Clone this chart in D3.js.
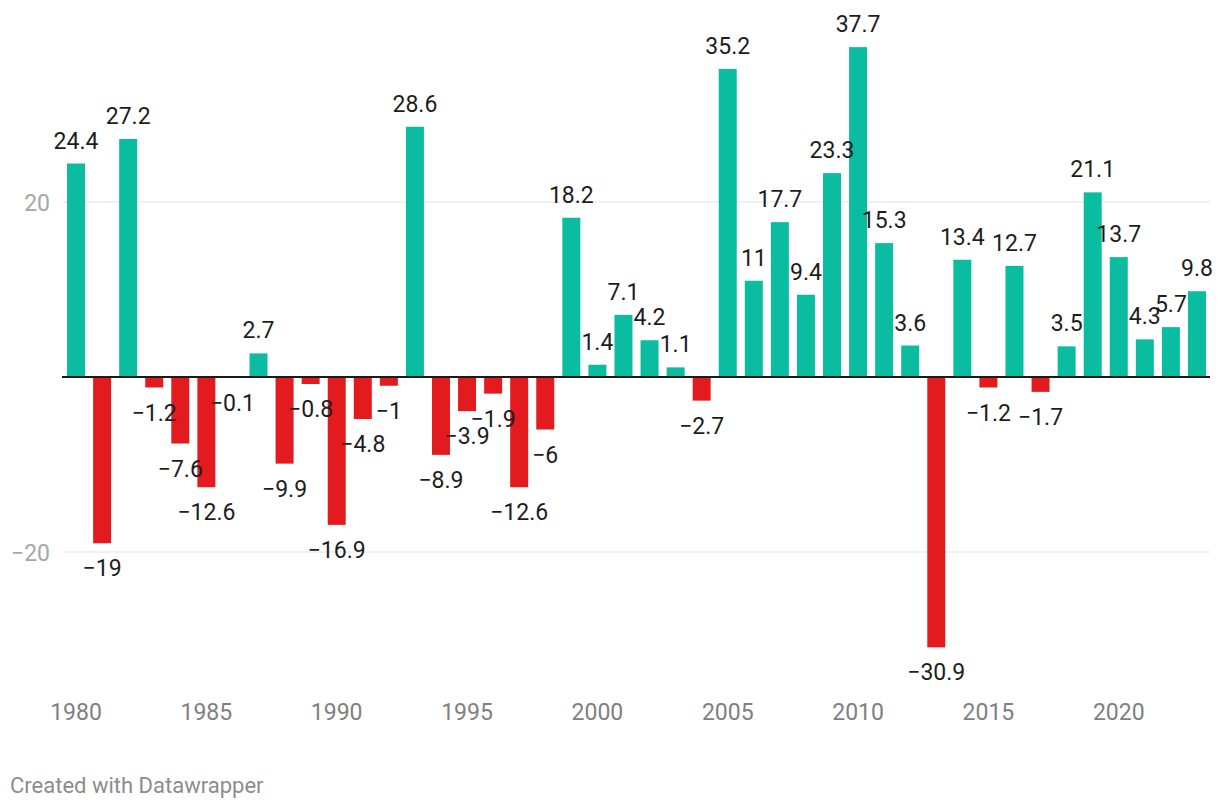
<!DOCTYPE html>
<html><head><meta charset="utf-8">
<script src="https://cdn.jsdelivr.net/npm/d3@7"></script>
<style>
body{margin:0;background:#fff;}
text{font-family:Roboto,"Noto Sans",sans-serif;}
</style></head>
<body>
<svg id="c" width="1220" height="808"></svg>
<script>
const years = d3.range(1980, 2024);
const values = [24.4,-19,27.2,-1.2,-7.6,-12.6,-0.1,2.7,-9.9,-0.8,-16.9,-4.8,-1,28.6,-8.9,-3.9,-1.9,-12.6,-6,18.2,1.4,7.1,4.2,1.1,-2.7,35.2,11,17.7,9.4,23.3,37.7,15.3,3.6,-30.9,13.4,-1.2,12.7,-1.7,3.5,21.1,13.7,4.3,5.7,9.8];
const yTicks = [-20, 20];
const xTickYears = [1980,1985,1990,1995,2000,2005,2010,2015,2020];

const svg = d3.select("#c");
const x = d3.scaleBand().domain(years).range([63,1210]).paddingInner(0.31).paddingOuter(0.155);
const y = d3.scaleLinear().domain([-20,20]).range([552,202]);
const fmt = v => String(v).replace("-", "\u2212");

// grid
svg.append("g").selectAll("line").data(yTicks).join("line")
  .attr("x1",63).attr("x2",1210).attr("y1",d=>y(d)).attr("y2",d=>y(d))
  .attr("stroke","#e3e3e3").attr("stroke-width",1);
svg.append("g").selectAll("text").data(yTicks).join("text")
  .attr("x",50).attr("y",d=>y(d)+1).attr("dy","0.35em").attr("text-anchor","end")
  .attr("font-size",23).attr("fill","#a6a6a6").text(d=>fmt(d));

// bars
const data = years.map((yr,i)=>({yr, v:values[i]}));
svg.append("g").selectAll("rect").data(data).join("rect")
  .attr("x",d=>x(d.yr)).attr("width",x.bandwidth())
  .attr("y",d=>y(Math.max(0,d.v))).attr("height",d=>Math.abs(y(d.v)-y(0)))
  .attr("fill",d=>d.v>=0?"#0abda0":"#e31b1e");

// zero line
svg.append("line").attr("x1",62).attr("x2",1210).attr("y1",y(0)).attr("y2",y(0))
  .attr("stroke","#1a1a1a").attr("stroke-width",2);

// value labels
svg.append("g").selectAll("text").data(data).join("text")
  .attr("x",d=>x(d.yr)+x.bandwidth()/2)
  .attr("y",d=>d.v>=0 ? y(d.v)-23 : y(d.v)+25)
  .attr("dy","0.35em").attr("text-anchor","middle")
  .attr("font-size",23).attr("fill","#1d1d1d").text(d=>fmt(d.v));

// x axis labels
svg.append("g").selectAll("text").data(xTickYears).join("text")
  .attr("x",d=>x(d)+x.bandwidth()/2).attr("y",712).attr("dy","0.35em")
  .attr("text-anchor","middle").attr("font-size",23).attr("fill","#808080").text(d=>d);

svg.append("text").attr("x",10).attr("y",785).attr("dy","0.35em")
  .attr("font-size",22).attr("fill","#8c8c8c").text("Created with Datawrapper");
</script>
</body></html>
